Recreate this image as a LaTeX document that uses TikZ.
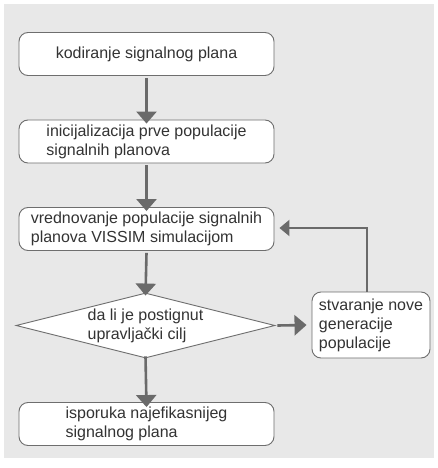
\documentclass[tikz,border=0pt]{standalone}
\usepackage{fontspec}
\setmainfont{Liberation Sans}
\usetikzlibrary{shapes.geometric, arrows.meta}
\definecolor{bggray}{HTML}{E8E8E8}
\definecolor{framegray}{HTML}{6E6E6E}
\definecolor{arrowgray}{HTML}{6A6A6A}
\definecolor{textgray}{HTML}{333333}
\tikzstyle{txt}=[font=\fontsize{16}{19}\selectfont, text=textgray, align=left]
\tikzstyle{stepbox}=[txt, draw=framegray, fill=white, line width=0.9pt, rounded corners=9pt, minimum width=255pt, minimum height=43pt, inner sep=0pt]
\tikzstyle{sidebox}=[stepbox, minimum width=118pt, minimum height=66pt]
\tikzstyle{decision}=[diamond, draw=framegray, fill=white, line width=0.9pt, minimum width=259pt, minimum height=65pt, inner sep=0pt]
\tikzstyle{flow}=[arrowgray, line width=2.6pt, -{Triangle[width=20pt, length=12pt]}]
\tikzstyle{back}=[arrowgray, line width=2.2pt, -{Triangle[width=16pt, length=10pt]}]

\begin{document}
\begin{tikzpicture}[x=1pt, y=-1pt]
      % BACKGROUND
      \useasboundingbox (0, 0) rectangle (438, 468);
      \fill[bggray] (4, 4) rectangle (434, 458);

      % MAIN COLUMN
      \node[stepbox] (code)  at (146.5, 54)  {kodiranje signalnog plana};
      \node[stepbox] (init)  at (146.5, 141.5) {inicijalizacija prve populacije\\signalnih planova};
      \node[stepbox] (eval)  at (146.5, 229) {vrednovanje populacije signalnih\\planova VISSIM simulacijom};
      \node[decision] (goal) at (145.5, 325.5) {};
      \node[txt] (goaltxt)   at (goal) {da li je postignut\\upravljački cilj};
      \node[stepbox] (best)  at (146.5, 424) {isporuka najefikasnijeg\\signalnog plana};

      % SIDE BRANCH
      \node[sidebox] (gen) at (371, 325) {stvaranje nove\\generacije\\populacije};
      \coordinate (turn) at (367, 228);

      % ARROWS
      \draw[flow] ([yshift=-2pt]code.south) -- ([yshift=-4pt]init.north);
      \draw[flow] ([yshift=-2pt]init.south) -- ([yshift=-4pt]eval.north);
      \draw[flow] ([yshift=-2pt]eval.south) -- ([yshift=-3pt]goal.north);
      \draw[flow] ([yshift=2pt]goal.south) -- ([yshift=-5pt]best.north);
      \draw[flow] ([xshift=2pt]goal.east) -- ([xshift=-5pt]gen.west);
      \draw[back] (gen.north -| turn) -- (turn) -- ([xshift=5pt]eval.east |- turn);
\end{tikzpicture}
\end{document}
